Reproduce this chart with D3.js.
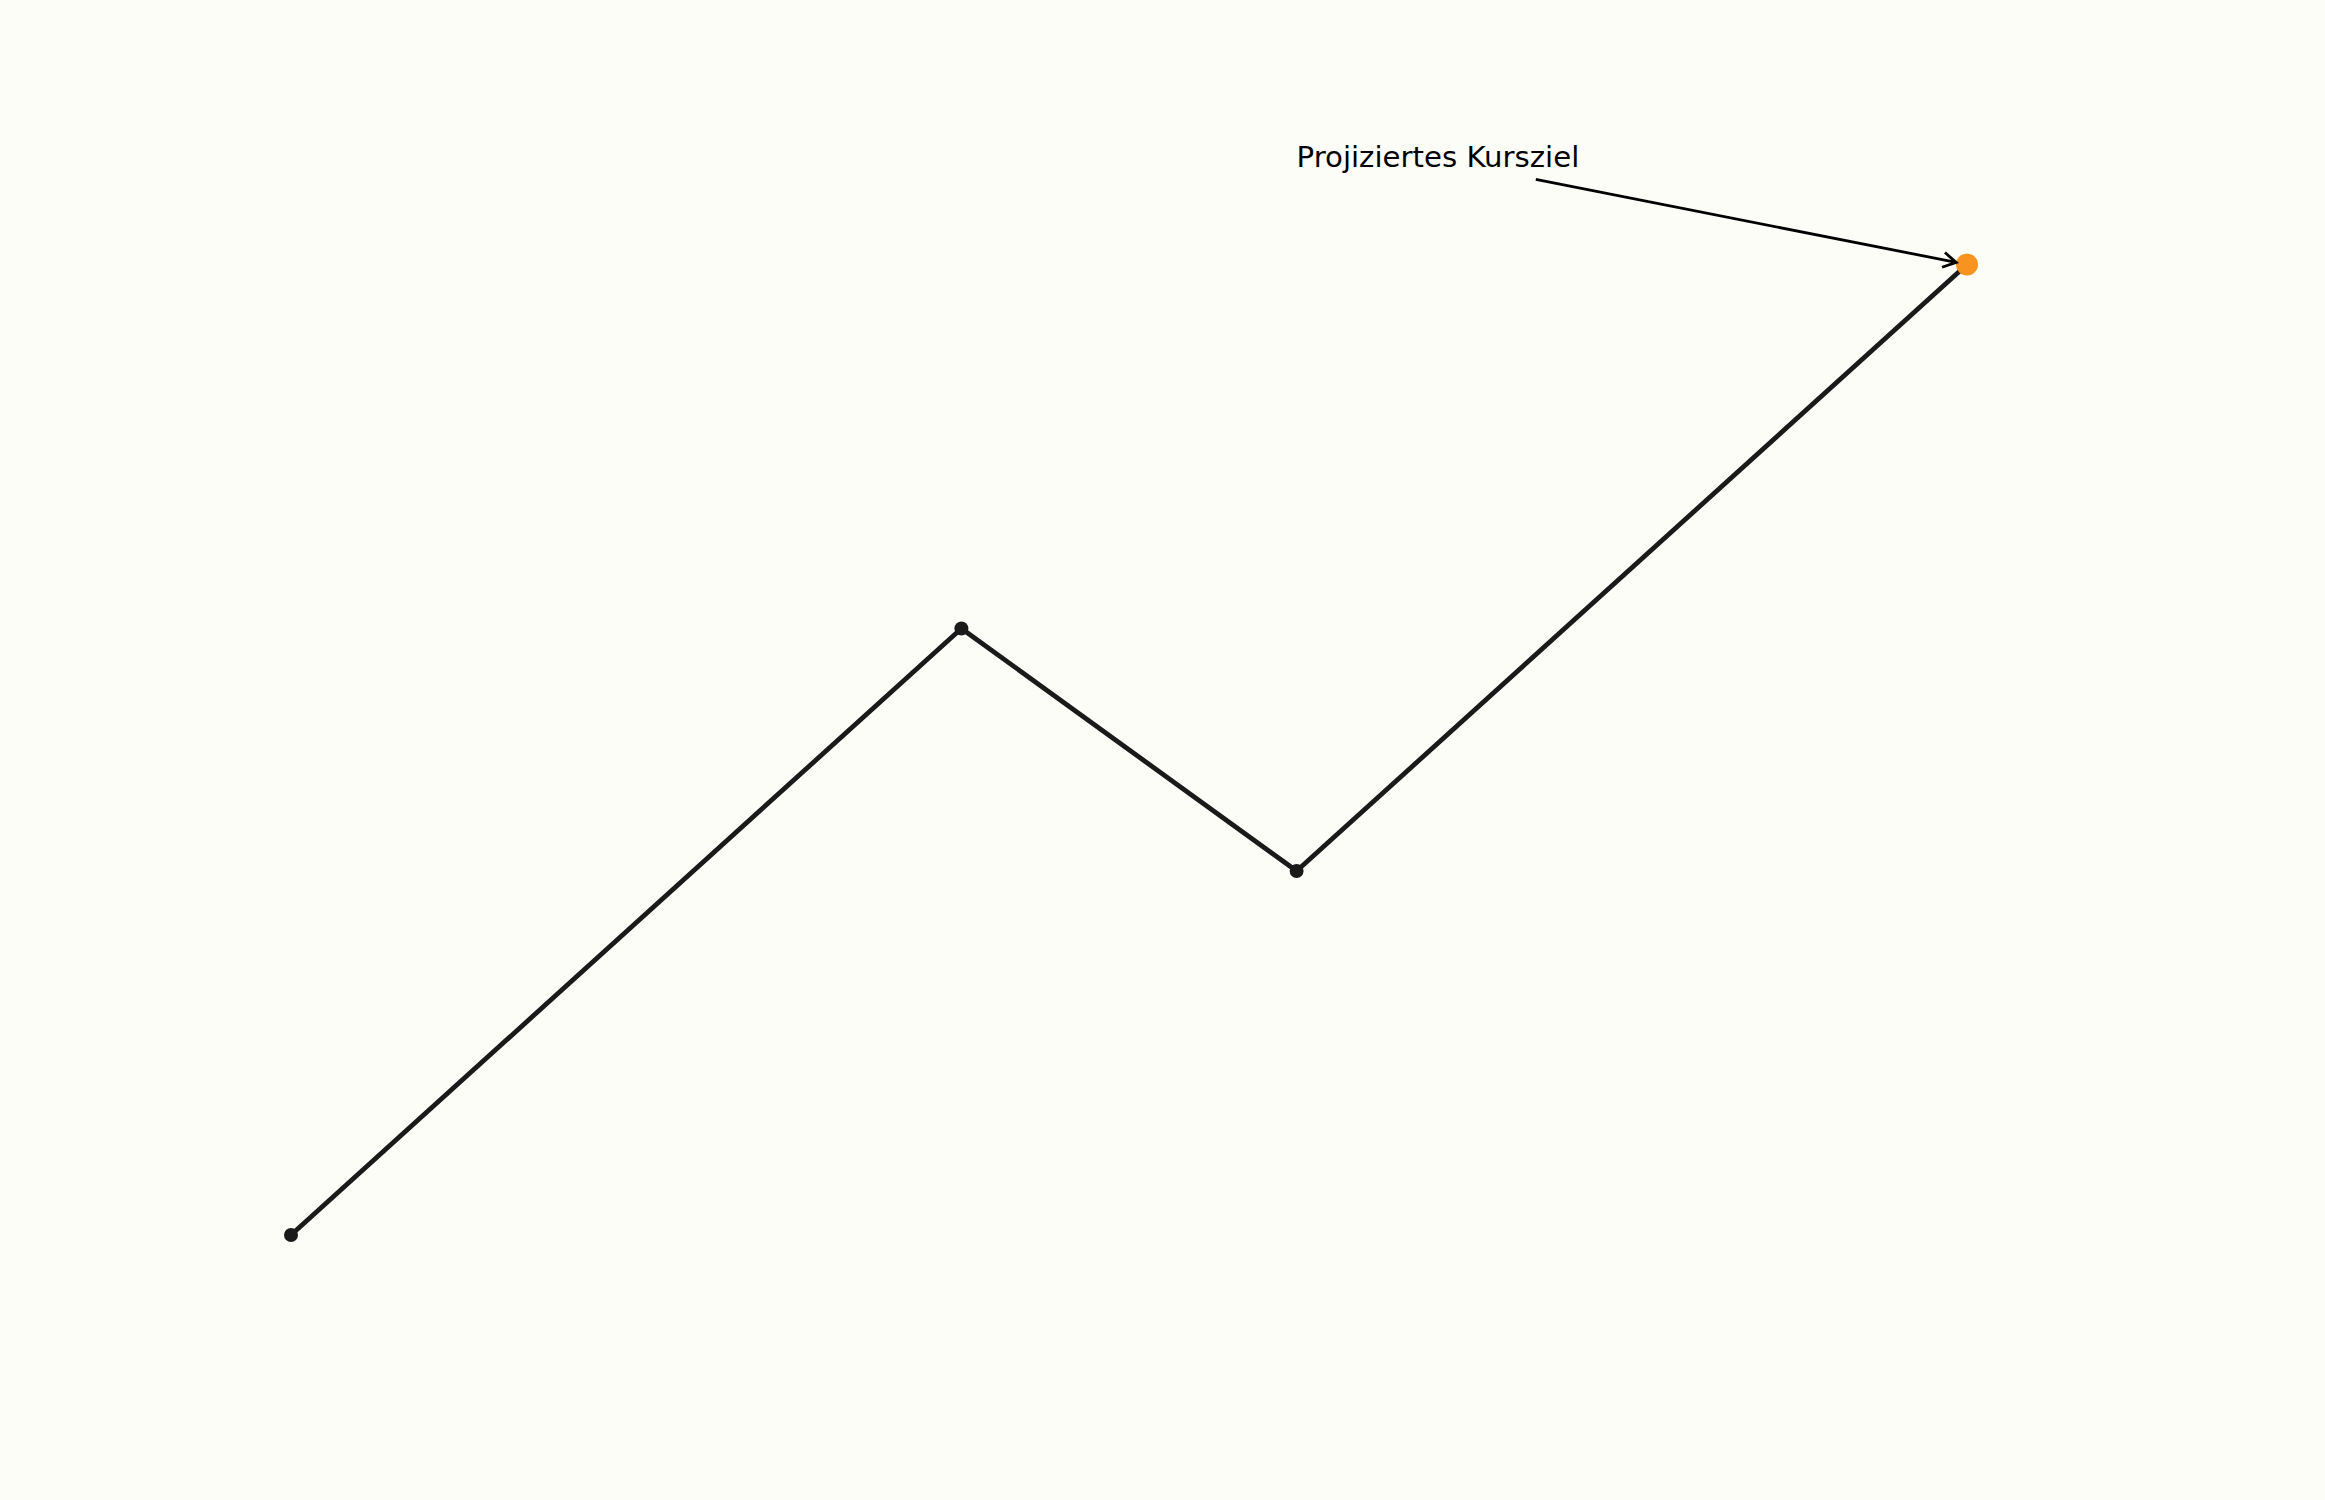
<!DOCTYPE html>
<html>
<head>
<meta charset="utf-8">
<script src="https://cdn.jsdelivr.net/npm/d3@7"></script>
<style>
  html, body { margin: 0; padding: 0; background: #fdfdf8; }
  svg { display: block; }
</style>
</head>
<body>
<script>
// Data
const steps = [0, 2, 3, 5];
const prices = [100, 200, 160, 260];
const targetLabel = "Projiziertes Kursziel";
const labelStep = 3;
const labelPrice = 276.0;

const W = 2325, H = 1500;
const svg = d3.select("body").append("svg").attr("width", W).attr("height", H);
svg.append("rect").attr("width", W).attr("height", H).attr("fill", "#fdfdf8");

const x = d3.scaleLinear().domain([0, 5]).range([291, 1967]);
const y = d3.scaleLinear().domain([100, 260]).range([1235, 264.5]);

const data = steps.map((s, i) => ({ s, p: prices[i] }));

const line = d3.line().x(d => x(d.s)).y(d => y(d.p));
svg.append("path").datum(data)
  .attr("d", line)
  .attr("fill", "none")
  .attr("stroke", "#1a1a1a")
  .attr("stroke-width", 4.8)
  .attr("stroke-linejoin", "round")
  .attr("stroke-linecap", "round");

svg.selectAll("circle.pt").data(data.slice(0, -1)).enter().append("circle")
  .attr("class", "pt")
  .attr("cx", d => x(d.s)).attr("cy", d => y(d.p))
  .attr("r", 7).attr("fill", "#1a1a1a");

const last = data[data.length - 1];
svg.append("circle")
  .attr("cx", x(last.s)).attr("cy", y(last.p))
  .attr("r", 11).attr("fill", "#f7931e");

// Annotation
const fs = 29.2;
const tx = x(labelStep), ty = y(labelPrice);
const text = svg.append("text")
  .attr("x", tx).attr("y", ty)
  .attr("font-family", "DejaVu Sans")
  .attr("font-size", fs)
  .attr("fill", "#000")
  .text(targetLabel);

const bb = text.node().getBBox();
const cx0 = bb.x + bb.width / 2, cy0 = ty - 0.25 * fs;
const px = x(last.s), py = y(last.p);
// clip start below the text box (with padding)
const bottom = ty + 12;
const t0 = (bottom - cy0) / (py - cy0);
const sx = cx0 + t0 * (px - cx0), sy = bottom;
// end just before dot
const dx = px - sx, dy = py - sy, len = Math.hypot(dx, dy);
const ux = dx / len, uy = dy / len;
const ex = px - ux * 11, ey = py - uy * 11;

svg.append("line")
  .attr("x1", sx).attr("y1", sy).attr("x2", ex).attr("y2", ey)
  .attr("stroke", "#000").attr("stroke-width", 2.8);

const hl = 13, hw = 7.5;
const head = d3.path();
head.moveTo(ex - ux * hl - uy * hw, ey - uy * hl + ux * hw);
head.lineTo(ex, ey);
head.lineTo(ex - ux * hl + uy * hw, ey - uy * hl - ux * hw);
svg.append("path").attr("d", head.toString())
  .attr("fill", "none").attr("stroke", "#000").attr("stroke-width", 2.8)
  .attr("stroke-linejoin", "miter");
</script>
</body>
</html>
